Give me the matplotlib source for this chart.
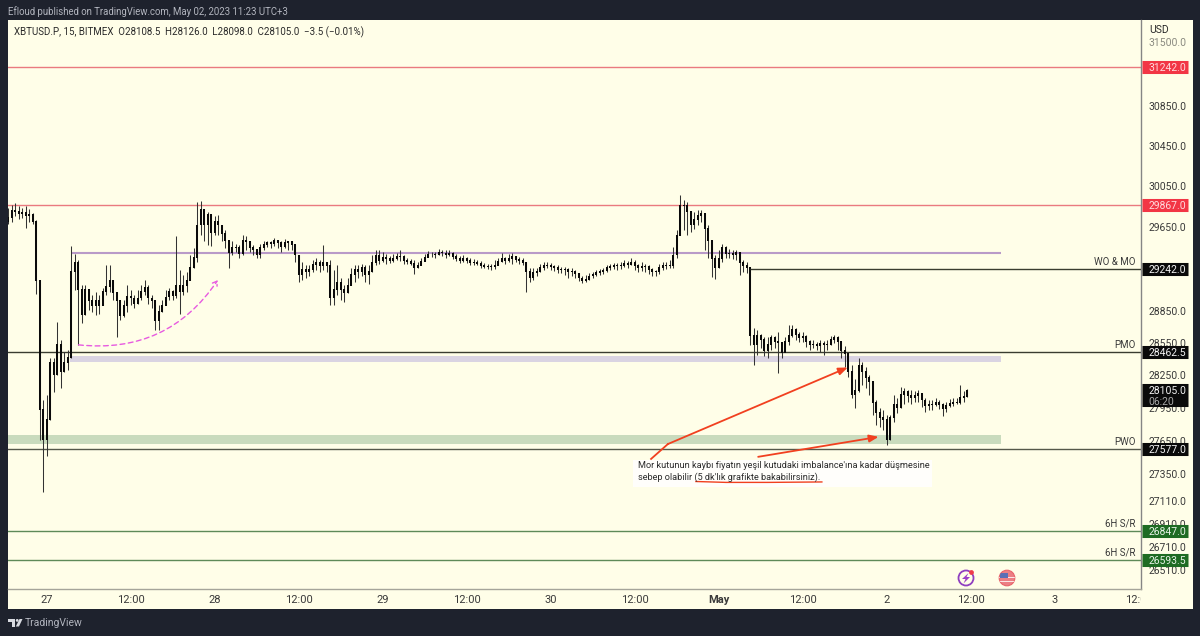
import matplotlib
matplotlib.use("Agg")
import matplotlib.pyplot as plt
from matplotlib.patches import Rectangle, Circle, Polygon, FancyArrowPatch
from matplotlib.ticker import NullLocator
from matplotlib.transforms import Bbox, blended_transform_factory, offset_copy
import numpy as np

plt.rcParams['font.family'] = ['Roboto', 'DejaVu Sans']

# 30-minute candles, first one at hour -5.5 relative to Apr 27 00:00
first_open = 29700
closes = [29740,29810,29800,29780,29790,29760,29770,29700,29140,27930,27660,27840,28370,28250,28530,28280,28370,28410,29220,29310,29050,28810,29050,28950,28900,28950,28900,29030,29080,29140,29020,28950,28800,28900,28990,28970,28920,28970,29030,29070,28970,28950,28760,28840,28900,28980,29030,28990,29090,29030,29090,29140,29260,29360,29670,29820,29670,29770,29600,29700,29670,29590,29520,29400,29450,29450,29390,29520,29510,29450,29430,29380,29450,29480,29500,29490,29520,29500,29460,29500,29510,29480,29380,29190,29240,29220,29240,29290,29310,29280,29310,29280,28970,29050,29120,29050,29020,29090,29190,29240,29220,29260,29190,29220,29310,29380,29330,29360,29350,29330,29350,29370,29370,29330,29320,29300,29260,29280,29320,29360,29390,29390,29380,29410,29400,29380,29400,29370,29350,29330,29350,29330,29310,29310,29300,29280,29270,29270,29270,29280,29320,29350,29330,29350,29370,29340,29330,29310,29220,29160,29210,29220,29260,29280,29280,29270,29260,29240,29240,29240,29220,29220,29200,29160,29140,29150,29180,29190,29210,29220,29230,29260,29270,29280,29280,29280,29300,29290,29310,29280,29260,29270,29270,29240,29220,29220,29260,29280,29280,29280,29380,29570,29860,29860,29800,29670,29720,29760,29780,29640,29520,29350,29260,29350,29450,29390,29400,29380,29410,29310,29280,29260,28620,28530,28620,28580,28480,28530,28600,28560,28550,28460,28560,28620,28670,28630,28600,28610,28560,28530,28530,28520,28540,28530,28530,28580,28600,28560,28480,28450,28280,28070,28110,28340,28280,28230,28190,28000,27910,27860,27840,27660,27860,27980,27950,28070,28100,28060,28040,28060,28080,28020,27970,27980,27980,28000,27980,27940,27970,27990,28000,28000,28040,28050,28105]
highs = [29840,29860,29880,29850,29840,29850,29830,29790,29720,29140,28020,28070,28410,28410,28740,28580,28460,28480,29470,29390,29330,29090,29090,29050,29000,29030,29000,29070,29280,29280,29140,29030,28910,28950,29090,29050,29000,29050,29090,29140,29090,29000,28950,28900,28950,29050,29070,29050,29560,29240,29190,29220,29380,29450,29890,29900,29800,29800,29770,29760,29770,29670,29620,29520,29520,29490,29480,29570,29560,29520,29480,29430,29490,29520,29520,29520,29540,29520,29520,29530,29520,29520,29480,29380,29310,29280,29280,29330,29350,29330,29480,29310,29330,29240,29280,29160,29090,29160,29260,29280,29280,29290,29280,29280,29380,29430,29430,29410,29390,29370,29390,29400,29430,29380,29350,29340,29330,29310,29350,29390,29420,29410,29410,29440,29430,29430,29430,29410,29390,29370,29380,29360,29350,29340,29330,29320,29300,29290,29290,29330,29350,29400,29360,29390,29400,29370,29360,29350,29310,29260,29260,29260,29290,29310,29310,29300,29280,29280,29270,29270,29260,29260,29240,29210,29180,29190,29210,29220,29240,29250,29260,29280,29290,29300,29300,29310,29330,29320,29350,29330,29290,29310,29290,29280,29260,29240,29290,29310,29310,29330,29460,29620,29960,29910,29890,29810,29800,29820,29820,29770,29670,29520,29380,29430,29490,29470,29440,29430,29430,29410,29330,29310,29260,28690,28670,28630,28600,28600,28620,28610,28650,28560,28600,28720,28720,28690,28650,28650,28620,28580,28580,28560,28580,28570,28580,28610,28620,28610,28560,28520,28460,28340,28210,28410,28370,28320,28250,28180,28020,27950,27930,27880,27880,28070,28040,28140,28130,28110,28110,28100,28110,28080,28040,28020,28020,28040,28020,27990,28000,28030,28040,28040,28160,28100,28120]
lows = [29680,29700,29760,29730,29740,29640,29700,29680,29010,27660,27190,27510,27930,28090,28250,28130,28280,28300,28410,29050,28530,28730,28840,28860,28840,28810,28820,28950,29000,29030,28950,28600,28760,28790,28840,28900,28880,28910,28950,29000,28910,28880,28670,28670,28840,28900,28950,28950,28970,28820,29000,29030,29190,29260,29310,29570,29520,29480,29470,29570,29570,29520,29450,29260,29380,29410,29350,29380,29430,29410,29380,29350,29350,29430,29460,29450,29470,29450,29410,29450,29430,29430,29310,29120,29140,29160,29180,29220,29240,29220,29240,29220,28900,28900,29000,28950,28930,29030,29090,29120,29160,29180,29120,29100,29240,29280,29290,29310,29290,29300,29310,29330,29320,29290,29290,29280,29200,29260,29290,29340,29360,29360,29350,29380,29370,29350,29370,29340,29320,29300,29310,29300,29280,29280,29280,29260,29260,29250,29240,29250,29290,29310,29290,29310,29290,29310,29290,29280,29030,29120,29140,29180,29220,29240,29260,29240,29230,29210,29210,29190,29160,29180,29160,29130,29110,29120,29140,29160,29180,29190,29200,29220,29240,29250,29240,29250,29270,29260,29280,29240,29220,29230,29220,29200,29180,29180,29200,29240,29250,29260,29260,29350,29570,29620,29570,29600,29630,29670,29700,29430,29350,29170,29150,29260,29310,29350,29350,29340,29330,29190,29220,29210,28530,28340,28440,28500,28430,28410,28480,28500,28270,28410,28480,28530,28600,28580,28560,28560,28510,28480,28500,28480,28460,28440,28480,28530,28550,28480,28410,28320,28230,28040,27950,28090,28160,28130,28070,27880,27790,27770,27750,27610,27660,27820,27900,27950,27980,28000,27980,28000,28000,27960,27910,27930,27930,27970,27940,27870,27910,27960,27970,27980,27980,28000,28070]

price_ticks = [31500,30850,30450,30050,29650,29250,28850,28550,28250,27950,27650,27350,27110,26910,26710,26510]
time_ticks = [0,12,24,36,48,60,72,84,96,108,120,132,144,156]
time_labels = ['27','12:00','28','12:00','29','12:00','30','12:00','May','12:00','2','12:00','3','12:00']

BG = '#1e222d'
CREAM = '#fffee8'
TXT = '#3a3a3a'
if not (len(closes) == len(highs) == len(lows)):
    raise ValueError(f"lens {len(closes)} {len(highs)} {len(lows)}")

fig = plt.figure(figsize=(12, 6.36), dpi=100, facecolor=BG)
W, H = 1200, 636
fig.add_artist(Rectangle((8/W, (H-609)/H), 1185/W, 589/H, transform=fig.transFigure,
                         fc=CREAM, ec='none', zorder=-1))
ax = fig.add_axes([8/W, (H-589)/H, 1133/W, 569/H], facecolor=CREAM)
ax.set_yscale('log')
ax.set_xlim(-5.57, 156.29)
ax.set_ylim(26342, 31726)

c = np.array(closes, float)
h = np.array(highs, float)
l = np.array(lows, float)
o = np.r_[first_open, c[:-1]]
t = -5.5 + 0.5*np.arange(len(c))
ax.vlines(t, np.minimum(l, np.minimum(o, c)), np.maximum(h, np.maximum(o, c)),
          color='#333333', lw=0.75, zorder=3)
ax.vlines(t, np.minimum(o, c)-4, np.maximum(o, c)+4, color='#0a0a0a', lw=1.45, zorder=4)

# levels
RED = '#ea7a7f'; BLK = '#3a3d30'; GRN = '#5e8a58'
for p in (31242.0, 29867.0):
    ax.axhline(p, color=RED, lw=1.0, zorder=2)
ax.hlines(29400, 3.6, 136.3, color='#b99ac8', lw=1.5, zorder=2)
ax.hlines(29242, 100.4, 156.3, color=BLK, lw=1.0, zorder=5)
ax.axhline(28462.5, color=BLK, lw=1.0, zorder=2)
ax.axhline(27577, color='#55584a', lw=1.0, zorder=2)
for p in (26847, 26593.5):
    ax.axhline(p, color=GRN, lw=1.0, zorder=2)
ax.add_patch(Rectangle((3.3, 28370), 133.0, 60, fc='#dad4e2', ec='none', zorder=1))
ax.add_patch(Rectangle((-5.57, 27620), 141.87, 83, fc='#c9dbbd', ec='none', zorder=1))

# drawings
ax.add_patch(FancyArrowPatch((4.5, 28530), (24.4, 29140), connectionstyle='arc3,rad=0.3',
                             arrowstyle='->,head_length=3,head_width=2', color='#e75ae0', lw=1.0,
                             ls=(0, (3.5, 2.5)), zorder=6, shrinkA=0, shrinkB=0))
ax.add_patch(Rectangle((83.7, 27235), 42.7, 241, fc='white', ec='none', alpha=0.85, zorder=6))
ORG = '#f1401f'
ax.plot([86.3, 88.7], [27486, 27620], color=ORG, lw=1.3, zorder=7)
ax.annotate('', xy=(114.4, 28320), xytext=(88.7, 27620), zorder=7,
            arrowprops=dict(arrowstyle='-|>,head_length=0.55,head_width=0.22', color=ORG, lw=1.3,
                            shrinkA=0, shrinkB=0))
ax.annotate('', xy=(118.8, 27685), xytext=(101.6, 27505), zorder=7,
            arrowprops=dict(arrowstyle='-|>,head_length=0.55,head_width=0.22', color=ORG, lw=1.3,
                            shrinkA=0, shrinkB=0))
ax.plot([92.7, 97, 103, 110.7], [27284, 27276, 27276, 27280], color=ORG, lw=1.0, zorder=7)
ax.text(84.4, 27426, "Mor kutunun kaybı fiyatın yeşil kutudaki imbalance'ına kadar düşmesine",
        fontsize=6.55, color='#2b2b2b', va='center', zorder=8)
ax.text(84.4, 27326, "sebep olabilir (5 dk'lık grafikte bakabilirsiniz).",
        fontsize=6.55, color='#2b2b2b', va='center', zorder=8)

# axes cosmetics
for s in ('top', 'left'):
    ax.spines[s].set_visible(False)
ax.spines['right'].set_color('#858585'); ax.spines['right'].set_linewidth(1.0)
ax.spines['bottom'].set_color('#a5a59a'); ax.spines['bottom'].set_linewidth(1.0)
ax.yaxis.tick_right()
ax.yaxis.set_minor_locator(NullLocator())
ax.set_yticks(price_ticks)
ax.set_yticklabels([f'{v:.1f}' for v in price_ticks], fontsize=7.5, color=TXT)
ax.get_yticklabels()[0].set_color('#8a8a80')
ax.tick_params(axis='y', which='both', length=0, pad=5.2)
ax.set_xticks(time_ticks)
ax.set_xticklabels(time_labels, fontsize=8, color=TXT)
ax.tick_params(axis='x', length=0, pad=4.5)
for lab, s in zip(ax.get_xticklabels(), time_labels):
    if s == 'May':
        lab.set_fontweight('bold')
ax.get_xticklabels()[-1].set_clip_box(Bbox([[0, 0], [1141, 636]]))
ax.get_xticklabels()[-1].set_clip_on(True)

# price tags
tr = blended_transform_factory(ax.transAxes, ax.transData)
def tag(p, txt, fc, tc='white'):
    ax.plot([1.0005, 1.0415], [p, p], transform=tr, color=fc, lw=9.4, solid_capstyle='butt',
            clip_on=False, zorder=10)
    ax.text(1.0065, p, txt, transform=tr, color=tc, fontsize=7.5, va='center_baseline', clip_on=False, zorder=11)
tag(31242.0, '31242.0', '#f23645', '#ffd9dc')
tag(29867.0, '29867.0', '#f23645', '#ffd9dc')
tag(29242.0, '29242.0', '#0a0a0a', '#f2f2f2')
tag(28462.5, '28462.5', '#0a0a0a', '#f2f2f2')
tag(27577.0, '27577.0', '#0a0a0a', '#f2f2f2')
tag(26847.0, '26847.0', '#1e6b23', '#e6f2e6')
tag(26593.5, '26593.5', '#1e6b23', '#e6f2e6')
tr_box = offset_copy(tr, fig=fig, y=-4.5, units='dots')
ax.plot([1.0005, 1.0415], [28105, 28105], transform=tr_box, color='#0a0a0a', lw=16.6,
        solid_capstyle='butt', clip_on=False, zorder=10)
ax.text(1.0065, 28105, '28105.0', transform=offset_copy(tr, fig=fig, y=1, units='dots'), color='#f2f2f2',
        fontsize=7.5, va='center_baseline', clip_on=False, zorder=11)
ax.text(1.0065, 28105, '06:20', transform=offset_copy(tr, fig=fig, y=-10, units='dots'), color='#a8a8a8',
        fontsize=7.5, va='center_baseline', clip_on=False, zorder=11)

for p, s in [(29242, 'WO & MO'), (28462.5, 'PMO'), (27577, 'PWO'), (26847, '6H S/R'), (26593.5, '6H S/R')]:
    ax.annotate(s, xy=(1.0, p), xycoords=tr, xytext=(-4, 1.5), textcoords='offset points',
                ha='right', va='bottom', fontsize=7.0, color=TXT)

# chrome: header, footer, icons in figure pixels
ov = fig.add_axes([0, 0, 1, 1], zorder=5)
ov.set_xlim(0, W); ov.set_ylim(H, 0); ov.axis('off'); ov.patch.set_alpha(0)
ov.text(8, 12, 'Efloud published on TradingView.com, May 02, 2023 11:23 UTC+3', fontsize=6.9,
        color='#b2b5be', va='center')
ov.text(14, 32, 'XBTUSD.P, 15, BITMEX  O28108.5  H28126.0  L28098.0  C28105.0  −3.5 (−0.01%)', fontsize=7.0,
        color='#2a2a2a', va='center')
ov.text(1149, 30, 'USD', fontsize=7.5, color='#2a2a2a', va='center')
ov.text(25, 623, 'TradingView', fontsize=7.5, color='#b2b5be', va='center')
LOGO = '#d8dae0'
ov.add_patch(Rectangle((8, 619), 7, 2.6, fc=LOGO, ec='none'))
ov.add_patch(Rectangle((11.5, 619), 3.5, 7.5, fc=LOGO, ec='none'))
ov.add_patch(Circle((17.2, 620.4), 1.4, fc=LOGO, ec='none'))
ov.add_patch(Polygon([(19.5, 619), (22.5, 619), (19, 626.5), (15.8, 626.5)], fc=LOGO, ec='none'))
# lightning icon
ov.add_patch(Circle((966, 578), 7.5, fc=CREAM, ec='#8f3fc0', lw=1.3))
ov.add_patch(Polygon([(968.5, 573), (962, 579), (965.5, 579), (963.5, 583.5), (970, 577), (966.5, 577)],
                     fc='#9c3fc9', ec='none'))
ov.add_patch(Circle((971.5, 572.5), 2.4, fc='#ef3b4a', ec='none'))
# flag icon
fc = Circle((1007, 578), 7.8, fc='#ec7f84', ec='#e8636a', lw=0.8)
ov.add_patch(fc)
for yy in (576.5, 580.5):
    r = Rectangle((999, yy), 16, 1.5, fc='#fbe6e6', ec='none'); ov.add_patch(r); r.set_clip_path(fc)
r = Rectangle((1000, 572.5), 8, 5, fc='#5b6fb5', ec='none'); ov.add_patch(r); r.set_clip_path(fc)

fig.savefig('out.png', dpi=100, facecolor=BG)
